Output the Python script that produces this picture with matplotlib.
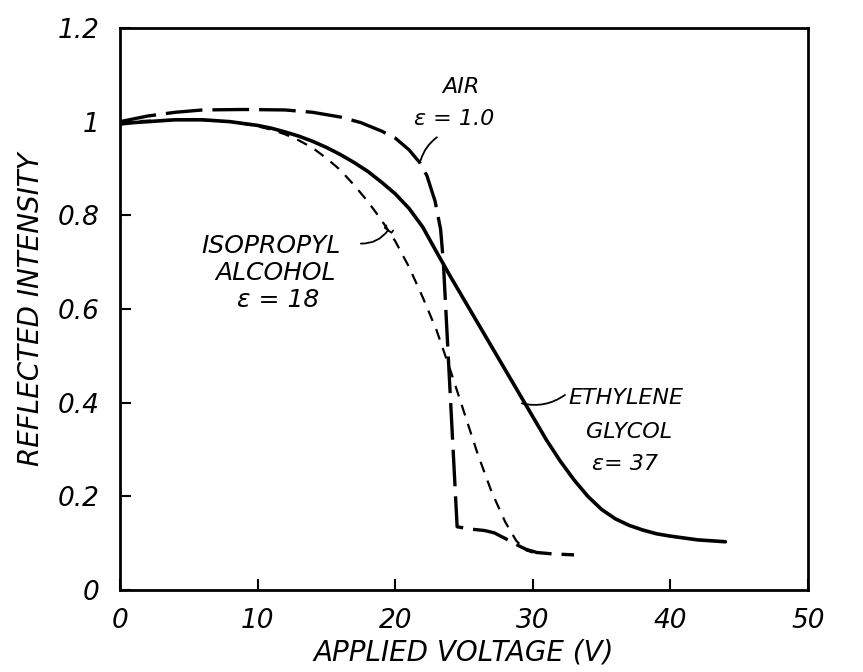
import matplotlib
matplotlib.use("Agg")
import matplotlib.pyplot as plt

# ---- data ----
glycol_x = [0, 1, 2, 4, 6, 8, 10, 11, 12, 13, 14, 15, 16, 17, 18, 19, 20, 21, 22, 23, 24, 25, 27, 29, 31,
            32, 33, 34, 35, 36, 37, 38, 39, 40, 42, 44]
glycol_y = [0.995, 0.998, 1.0, 1.004, 1.004, 1.0, 0.992, 0.986, 0.978, 0.969, 0.958, 0.945, 0.93, 0.913,
            0.894, 0.871, 0.846, 0.815, 0.775, 0.722, 0.67, 0.62, 0.52, 0.42, 0.32,
            0.275, 0.235, 0.2, 0.172, 0.152, 0.138, 0.128, 0.12, 0.115, 0.107, 0.103]

iso_x = [0, 5, 8, 10, 11, 12, 13, 14, 15, 16, 17, 18, 19, 20, 21, 22, 23, 24, 25, 26, 27, 28, 28.8, 29.5, 30]
iso_y = [1.0, 1.005, 1.0, 0.99, 0.983, 0.973, 0.96, 0.944, 0.922, 0.897, 0.865, 0.83, 0.79, 0.745, 0.69,
         0.625, 0.555, 0.47, 0.38, 0.29, 0.21, 0.145, 0.105, 0.085, 0.08]

air_x = [0, 2, 4, 6, 9, 12, 14, 16, 17.5, 19, 20, 21, 21.8, 22.3, 22.9, 23.3, 23.5, 24.5,
         25.5, 26.5, 27.2, 28, 28.8, 29.5, 30.3, 31.5, 33]
air_y = [1.0, 1.012, 1.02, 1.025, 1.026, 1.025, 1.02, 1.01, 0.998, 0.98, 0.965, 0.94, 0.912, 0.885, 0.83,
         0.77, 0.70, 0.135, 0.13, 0.127, 0.122, 0.11, 0.097, 0.087, 0.08, 0.077, 0.075]

x_ticks = [0, 10, 20, 30, 40, 50]
y_ticks = [0, 0.2, 0.4, 0.6, 0.8, 1.0, 1.2]
y_tick_labels = ["0", "0.2", "0.4", "0.6", "0.8", "1", "1.2"]

plt.rcParams['font.family'] = ['DejaVu Sans']
plt.rcParams['font.style'] = 'italic'

fig = plt.figure(figsize=(8.63, 6.72), dpi=100)
ax = fig.add_axes([120/863, 1-590/672, (808-120)/863, (590-28)/672])

ax.plot(glycol_x, glycol_y, color='black', lw=2.6, solid_capstyle='round', solid_joinstyle='round')
ax.plot(iso_x, iso_y, color='black', lw=1.6, dashes=(5, 4))
ax.plot(air_x, air_y, color='black', lw=2.4, dashes=(11, 3))

ax.set_xlim(0, 50)
ax.set_ylim(0, 1.2)
ax.set_xticks(x_ticks)
ax.set_yticks(y_ticks)
ax.set_yticklabels(y_tick_labels)
ax.tick_params(direction='in', length=8, width=1.5, labelsize=19, pad=15)
ax.tick_params(axis='x', pad=13)
for s in ax.spines.values():
    s.set_linewidth(2)
for lab in ax.get_xticklabels() + ax.get_yticklabels():
    lab.set_fontstyle('italic')

ax.set_xlabel("APPLIED VOLTAGE (V)", fontsize=20, fontstyle='italic', labelpad=3)
ax.set_ylabel("REFLECTED INTENSITY", fontsize=20, fontstyle='italic', labelpad=9)

tk = dict(fontsize=16, fontstyle='italic', ha='center', va='center')
tk2 = dict(fontsize=18, fontstyle='italic', ha='center', va='center')
ax.text(24.8, 1.075, "AIR", **tk)
ax.text(24.3, 1.005, "ε = 1.0", **tk)
ax.annotate("", xy=(21.8, 0.912), xytext=(23.2, 0.97),
            arrowprops=dict(arrowstyle='-', lw=1.3, color='black', connectionstyle='arc3,rad=0.2'))

ax.text(11.0, 0.734, "ISOPROPYL", **tk2)
ax.text(11.3, 0.677, "ALCOHOL", **tk2)
ax.text(11.5, 0.62, "ε = 18", **tk2)
ax.annotate("", xy=(19.6, 0.773), xytext=(17.3, 0.74),
            arrowprops=dict(arrowstyle='-[,widthB=0.3,lengthB=0.2', lw=1.3, color='black', connectionstyle='arc3,rad=0.3'))

ax.text(36.8, 0.41, "ETHYLENE", **tk)
ax.text(37.0, 0.338, "GLYCOL", **tk)
ax.text(36.7, 0.268, "ε= 37", **tk)
ax.annotate("", xy=(29.0, 0.40), xytext=(32.5, 0.42),
            arrowprops=dict(arrowstyle='-', lw=1.3, color='black', connectionstyle='arc3,rad=-0.25'))

fig.savefig("out.png", dpi=100)
